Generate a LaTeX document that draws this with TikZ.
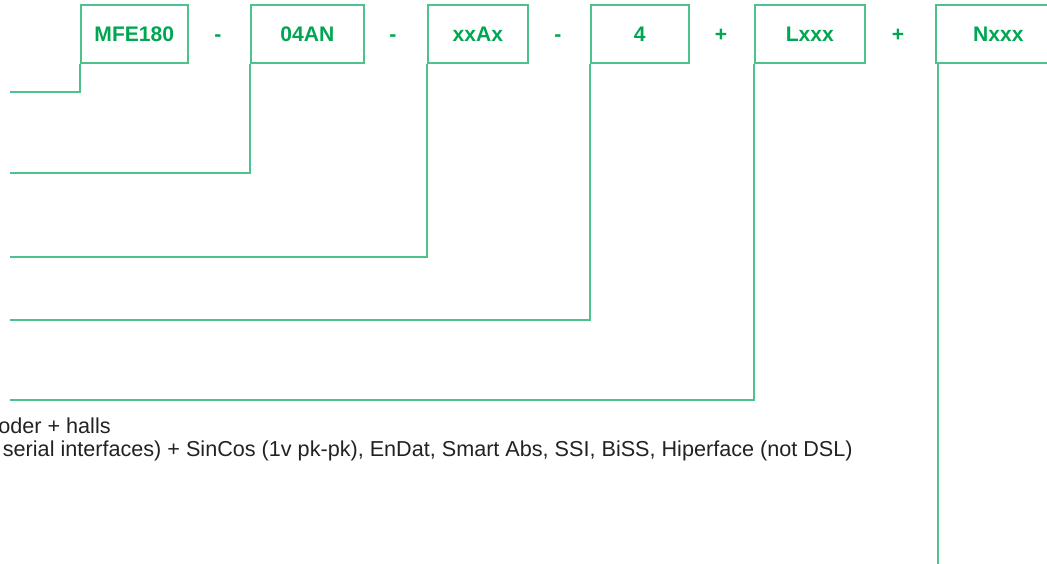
\documentclass[tikz,border=0pt]{standalone}
\usepackage{fontspec}
\setmainfont{Liberation Sans}
\usetikzlibrary{positioning}
\definecolor{codegreen}{HTML}{00A651}
\definecolor{linegreen}{HTML}{4CC38A}
\definecolor{desctext}{HTML}{222222}

\begin{document}
\begin{tikzpicture}[x=0.02cm,y=-0.02cm,
	codebox/.style={draw=linegreen,line width=0.9pt,minimum height=1.16cm,anchor=north west,inner sep=0pt,text=codegreen,font=\fontsize{12}{14}\selectfont\bfseries},
	sepsign/.style={anchor=base,text=codegreen,font=\fontsize{12}{14}\selectfont\bfseries},
	leg/.style={linegreen,line width=1.1pt},
	desc/.style={anchor=base east,inner sep=0pt,text=desctext,font=\fontsize{12.3}{14}\selectfont}]

	% Fix the page to the size of the reference
	\useasboundingbox (0,0) rectangle (1047,564);
	\clip (0,0) rectangle (1047,564);

	% Draw the code boxes
	\node[codebox,minimum width=2.14cm] (mfe) at (80,4) {MFE180};
	\node[codebox,minimum width=2.26cm] (size) at (250,4) {04AN};
	\node[codebox,minimum width=2.0cm] (enc) at (427,4) {xxAx};
	\node[codebox,minimum width=1.96cm] (pole) at (590,4) {4};
	\node[codebox,minimum width=2.2cm] (lopt) at (754,4) {Lxxx};
	\node[codebox,minimum width=2.5cm] (nopt) at (935,4) {Nxxx};

	% Draw the signs between the boxes
	\node[sepsign] (s1) at (218,42) {-};
	\node[sepsign] (s2) at (393,42) {-};
	\node[sepsign] (s3) at (558,42) {-};
	\node[sepsign] (s4) at (721,42) {+};
	\node[sepsign] (s5) at (898,42) {+};

	% Free ends of the legs
	\coordinate (e1) at (10,92);
	\coordinate (e2) at (10,173);
	\coordinate (e3) at (10,257);
	\coordinate (e4) at (10,320);
	\coordinate (e5) at (10,400);
	\coordinate (e6) at (938,564);

	% Draw the legs from each box
	\draw[leg] (mfe.south west) |- (e1);
	\draw[leg] (size.south west) |- (e2);
	\draw[leg] (enc.south west) |- (e3);
	\draw[leg] (pole.south west) |- (e4);
	\draw[leg] (lopt.south west) |- (e5);
	\draw[leg] (e6 |- nopt.south) -- (e6);

	% Description lines
	\node[desc] (d1) at (111,433) {oder + halls};
	\node[desc] (d2) at (853,456) {serial interfaces) + SinCos (1v pk-pk), EnDat, Smart Abs, SSI, BiSS, Hiperface (not DSL)};

\end{tikzpicture}
\end{document}
